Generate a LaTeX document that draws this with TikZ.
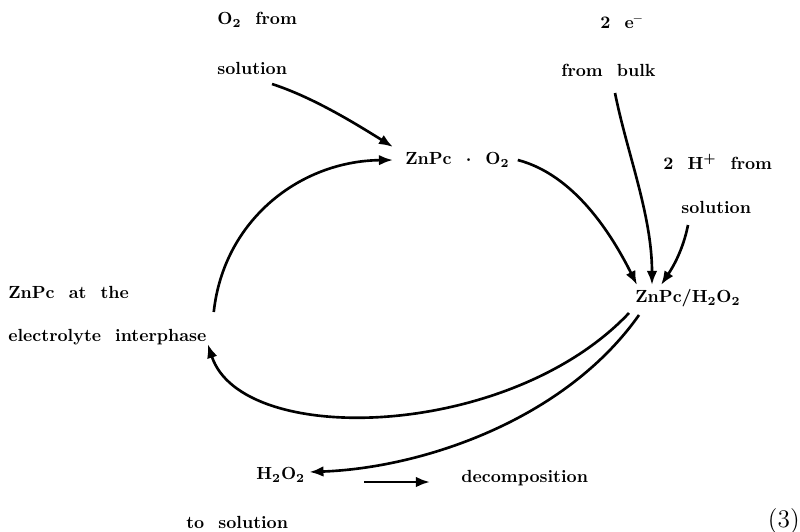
\documentclass[tikz,border=0pt]{standalone}
\usetikzlibrary{arrows.meta}

\tikzset{
  lbl/.style={anchor=west, inner sep=0pt, font={\bfseries\spaceskip=8pt plus 1pt\relax}},
  flow/.style={-{Latex[length=8pt,width=6pt]}, line width=1.5pt},
}

\begin{document}
\begin{tikzpicture}[x=0.02cm, y=-0.02cm]
        % \draw[help lines, gray!50, very thin] (0,0) grid[step=50] (800,531);
        \useasboundingbox (0,0) rectangle (800,531);

        % sources
        \node[lbl] (o2src) at (217,20) {O\textsubscript{2} from};
        \node[lbl] (o2sol) at (217,68) {solution};
        \node[lbl] (ebulk1) at (600,23) {2 e\textsuperscript{--}};
        \node[lbl] (ebulk2) at (561,70) {from bulk};
        \node[lbl] (hsrc) at (663,162) {2 H\textsuperscript{+} from};
        \node[lbl] (hsol) at (681,207) {solution};

        % cycle
        \node[lbl] (zpo2) at (405,160) {ZnPc {\boldmath$\cdot$} O\textsubscript{2}};
        \node[lbl] (zph) at (635,298) {ZnPc/H\textsubscript{2}O\textsubscript{2}};
        \node[lbl] (zpint1) at (8,292) {ZnPc at the};
        \node[lbl] (zpint2) at (8,337) {electrolyte interphase};

        % products
        \node[lbl] (h2o2) at (256,475) {H\textsubscript{2}O\textsubscript{2}};
        \node[lbl] (decomp) at (461,478) {decomposition};
        \node[lbl] (tosol) at (186,522) {to solution};
        \node[anchor=east, inner sep=0pt, font=\Large] (eqno) at (800,521) {(3)};

        \draw[flow] ([shift={(55,16)}]o2sol.west) .. controls +(40,13) and +(-40,-25) .. ([shift={(-12,-13)}]zpo2.west);
        \draw[flow] ([shift={(7,-25)}]zpint2.east) .. controls +(10,-92) and +(-93,1) .. ([shift={(-12,0)}]zpo2.west);
        \draw[flow] ([shift={(8,0)}]zpo2.east) .. controls +(57,15) and +(-25,-50) .. ([shift={(2,-13)}]zph.west);
        \draw[flow] ([shift={(54,23)}]ebulk2.west) .. controls +(12,60) and +(0,-70) .. ([shift={(17,-13)}]zph.west);
        \draw[flow] ([shift={(7,18)}]hsol.west) .. controls +(-5,25) and +(12,-18) .. ([shift={(26,-13)}]zph.west);

        \draw[flow] ([shift={(-6,15)}]zph.west) .. controls +(-120,127) and +(34,104) .. ([shift={(1,7)}]zpint2.east);
        \draw[flow] ([shift={(4,17)}]zph.west) .. controls +(-74,105) and +(113,-4) .. ([shift={(4,-3)}]h2o2.east);
        \draw[flow] ([shift={(59,7)}]h2o2.east) -- ([shift={(-31,4)}]decomp.west);
      \end{tikzpicture}
\end{document}
